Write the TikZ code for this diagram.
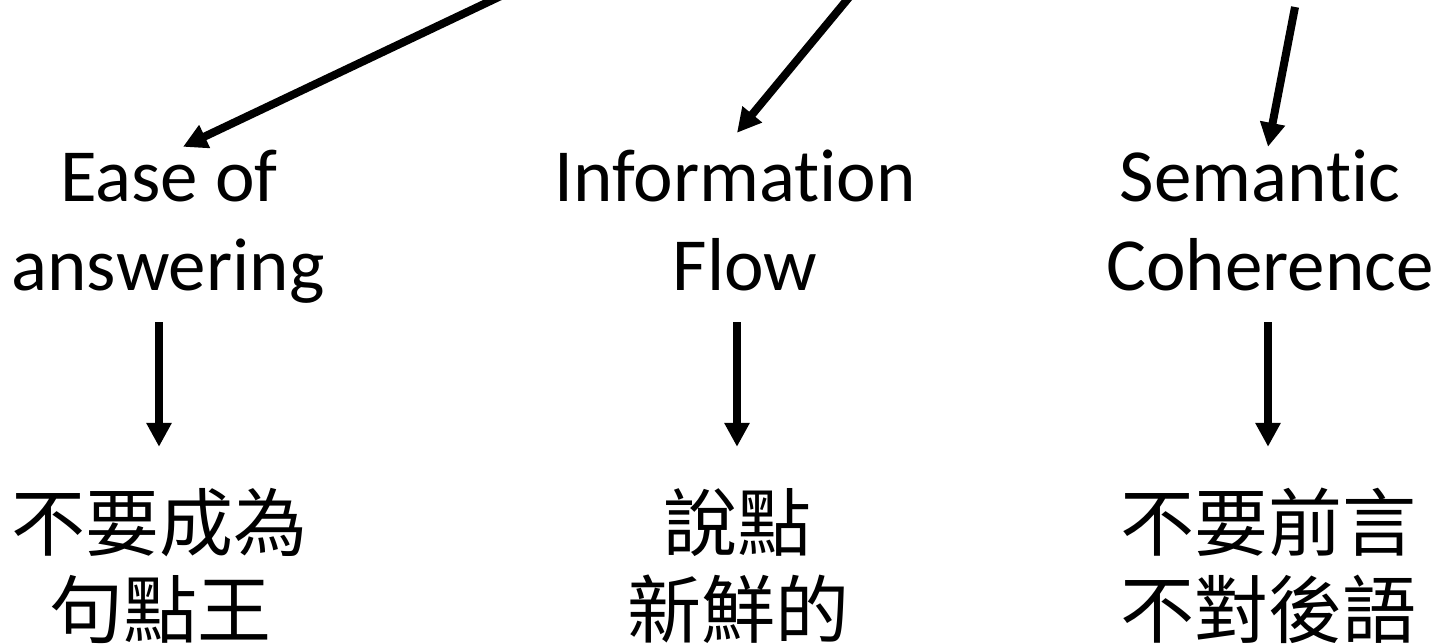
\documentclass[tikz,border=0pt]{standalone}
\usepackage{fontspec}
\setmainfont{Carlito}[Ligatures=NoCommon]
\newfontfamily\cjk{Noto Sans CJK TC}
\usetikzlibrary{arrows.meta}
\tikzset{
  en/.style={inner sep=0pt, anchor=base, text height=50pt, text depth=17pt, font=\fontsize{75}{88}\selectfont},
  zh/.style={inner sep=0pt, anchor=base, text height=60pt, text depth=10pt, font=\cjk\fontsize{74}{88}\selectfont},
  arr/.style={line width=8pt, -{Triangle[length=24pt,width=24pt]}},
}
\begin{document}
\begin{tikzpicture}[x=1pt,y=1pt]
\useasboundingbox (0,0) rectangle (1439,-644);
\clip (0,0) rectangle (1439,-644);
% English labels
\node[en] (e1) at (169,-202) {Ease of};
\node[en] (e2) at (168,-290) {answering};
\node[en] (i1) at (735,-202) {Information};
\node[en] (i2) at (745,-290) {Flow};
\node[en] (s1) at (1260,-202) {Semantic};
\node[en] (s2) at (1270,-290) {Coherence};
% Chinese labels
\node[zh] (c1) at (159,-550) {不要成為};
\node[zh] (c2) at (160,-637) {句點王};
\node[zh] (d1) at (737,-550) {說點};
\node[zh] (d2) at (738,-637) {新鮮的};
\node[zh] (f1) at (1268,-550) {不要前言};
\node[zh] (f2) at (1268,-637) {不對後語};
% free ends of the top arrows
\coordinate (t1) at (503,5);
\coordinate (t2) at (851,5);
\coordinate (t3) at (1295,-7);
\draw[arr] (t1) -- ([xshift=14pt,yshift=5pt]e1.north);
\draw[arr] (t2) -- ([xshift=2pt,yshift=19pt]i1.north);
\draw[arr] (t3) -- ([xshift=8pt,yshift=5pt]s1.north);
% vertical arrows
\draw[arr, shorten <=15pt, shorten >=43pt] (e2.south -| c1.north) -- (c1.north);
\draw[arr, shorten <=15pt, shorten >=43pt] (i2.south -| d1.north) -- (d1.north);
\draw[arr, shorten <=15pt, shorten >=43pt] (s2.south -| f1.north) -- (f1.north);
\end{tikzpicture}
\end{document}
